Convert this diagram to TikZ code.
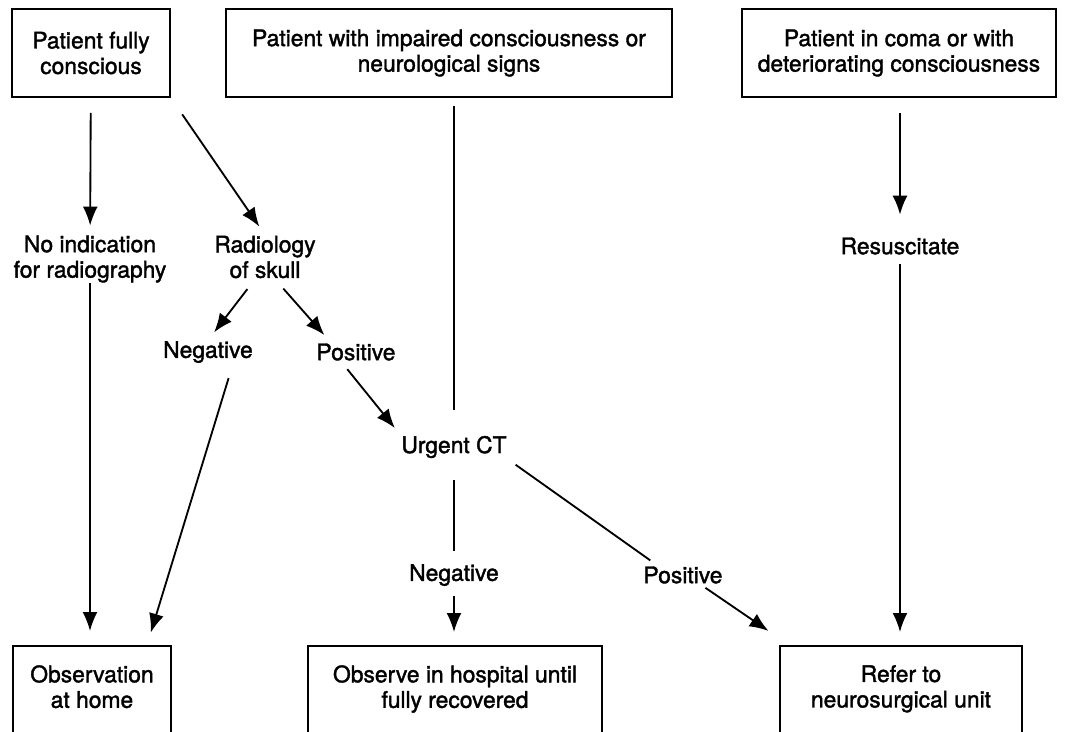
\documentclass[tikz,border=0pt]{standalone}
\usepackage{fontspec}
\setmainfont{TeX Gyre Heros}[BoldFont={TeX Gyre Heros} ,BoldFeatures={FakeBold=1.6}]
\usetikzlibrary{arrows.meta}

\begin{document}
\begin{tikzpicture}[x=0.02cm ,y=-0.02cm ,line width=1.05pt ,
		font=\fontsize{13pt}{14.5pt}\selectfont\bfseries ,
		arr/.style ={-{Latex[length=0.38cm ,width=0.3cm]}},
		topbox/.style ={draw ,align=center ,minimum height=1.76cm},
		endbox/.style ={draw ,align=center ,anchor=north ,inner ysep=11pt ,text depth=2cm},
		txt/.style ={align=center ,inner sep=0pt}]
		\useasboundingbox (0,0) rectangle (1065,731);
		\node[topbox ,minimum width=3.16cm] (A) at (91,53) {Patient fully\\conscious};
		\node[topbox ,minimum width=8.92cm] (B) at (449,53) {Patient with impaired consciousness or\\neurological signs};
		\node[topbox ,minimum width=6.28cm] (C) at (899,53) {Patient in coma or with\\deteriorating consciousness};
		\node[txt] (noind) at (90,259) {No indication\\for radiography};
		\node[txt] (rad) at (265,257) {Radiology\\of skull};
		\node[txt] (neg1) at (208,352) {Negative};
		\node[txt] (pos1) at (356,352) {Positive};
		\node[txt] (ct) at (454,447) {Urgent CT};
		\node[txt] (neg2) at (454,575) {Negative};
		\node[txt] (pos2) at (683,575) {Positive};
		\node[txt] (resus) at (900,246) {Resuscitate};
		\node[endbox ,minimum width=3.16cm] (D) at (92,645) {Observation\\at home};
		\node[endbox ,minimum width=5.88cm] (E) at (455,645) {Observe in hospital until\\fully recovered};
		\node[endbox ,minimum width=4.84cm] (F) at (901,645) {Refer to\\neurosurgical unit};
		\draw[arr ,shorten <=0.3cm ,shorten >=0.18cm] (A) -- (noind); % A to no indication
		\draw[arr ,shorten <=0.4cm ,shorten >=0.2cm] (A.south east) -- (rad.north); % A to radiology
		\draw[arr ,shorten <=0.25cm ,shorten >=0.2cm] ([xshift=-0.2cm]rad.south) -- (neg1.north); % radiology to negative
		\draw[arr ,shorten <=0.25cm ,shorten >=0.2cm] ([xshift=0.2cm]rad.south) -- ([xshift=-0.5cm]pos1.north); % radiology to positive
		\draw[arr ,shorten >=0.28cm] (noind) -- (noind |- D.north); % no indication to D
		\draw[arr ,shorten <=0.3cm ,shorten >=0.26cm] ([xshift=0.5cm]neg1.south) -- ([xshift=1.1cm]D.north); % negative to D
		\draw[arr ,shorten <=0.2cm ,shorten >=0.18cm] ([xshift=-0.3cm]pos1.south) -- (ct.north west); % positive to CT
		\draw[shorten <=0.16cm ,shorten >=0.5cm] (ct |- B.south) -- (ct); % B to CT
		\draw[shorten <=0.42cm ,shorten >=0.24cm] (ct) -- (neg2); % CT to negative
		\draw[arr ,shorten <=0.18cm ,shorten >=0.26cm] (neg2) -- (neg2 |- E.north); % negative to E
		\draw[shorten <=0.2cm ,shorten >=0.18cm] (ct.south east) -- ([xshift=0.3cm]pos2.north west); % CT to positive
		\draw[arr ,shorten <=0.12cm ,shorten >=0.5cm] ([xshift=0.35cm]pos2.south) -- ([xshift=0.2cm]F.north west); % positive to F
		\draw[arr ,shorten <=0.3cm ,shorten >=0.44cm] (C.south -| resus) -- (resus); % C to resuscitate
		\draw[arr ,shorten <=0.18cm ,shorten >=0.26cm] (resus) -- (resus |- F.north); % resuscitate to F
\end{tikzpicture}
\end{document}
